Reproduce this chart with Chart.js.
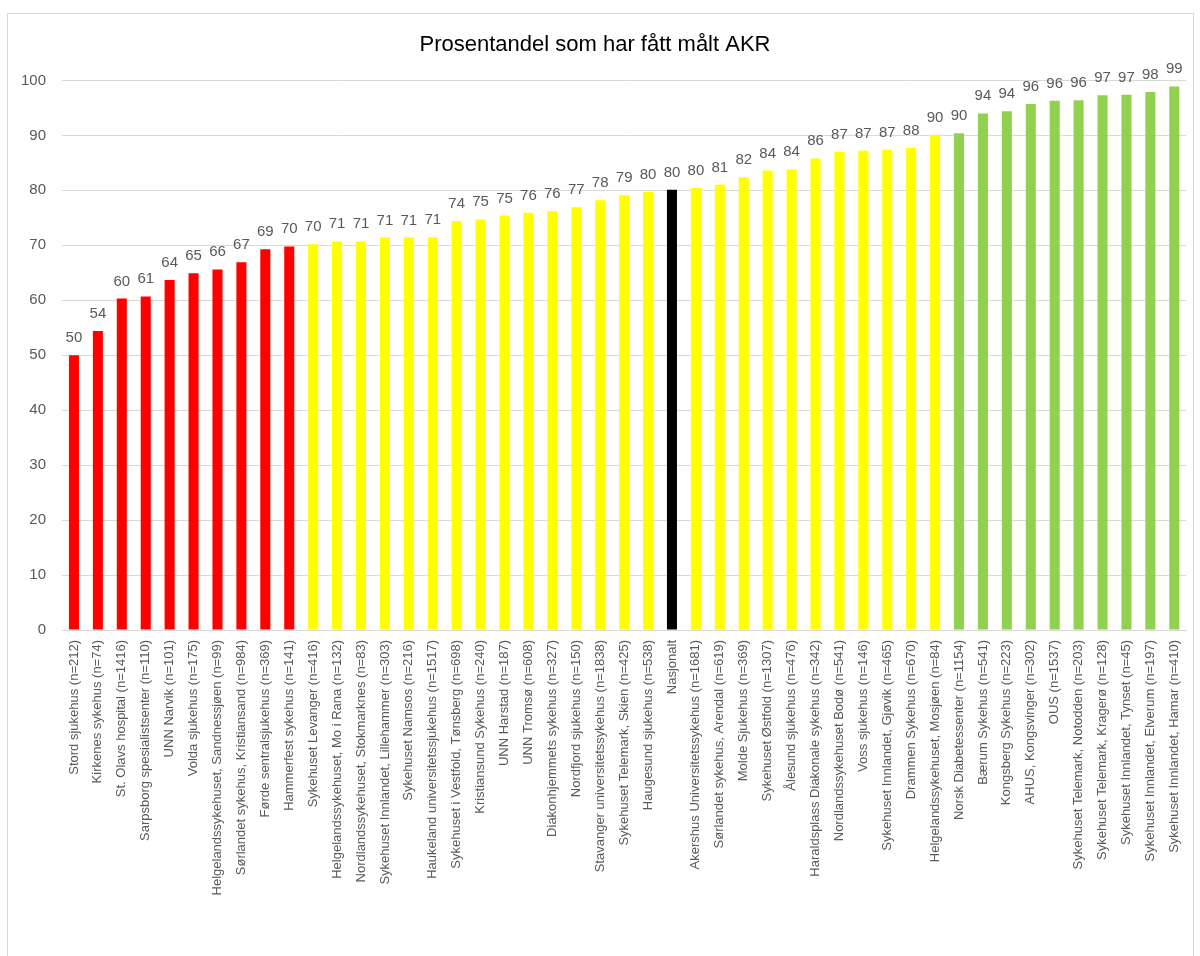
<!DOCTYPE html>
<html>
<head>
<meta charset="utf-8">
<script src="https://cdn.jsdelivr.net/npm/chart.js@4.4.1/dist/chart.umd.min.js"></script>
<style>
  html, body { margin: 0; padding: 0; background: #ffffff; overflow: hidden; }
  #wrap { position: relative; width: 1200px; height: 956px; }
  #frame { position: absolute; left: 7px; top: 13px; width: 1187px; height: 960px; border: 1px solid #d9d9d9; box-sizing: border-box; pointer-events: none; }
  canvas { position: absolute; left: 0; top: 0; }
</style>
</head>
<body>
<div id="wrap">
  <canvas id="c" width="1200" height="956"></canvas>
  <div id="frame"></div>
</div>
<script>
const titleText = "Prosentandel som har fått målt AKR";

const categories = [
  "Stord sjukehus (n=212)",
  "Kirkenes sykehus (n=74)",
  "St. Olavs hospital (n=1416)",
  "Sarpsborg spesialistsenter (n=110)",
  "UNN Narvik (n=101)",
  "Volda sjukehus (n=175)",
  "Helgelandssykehuset, Sandnessjøen (n=99)",
  "Sørlandet sykehus, Kristiansand (n=984)",
  "Førde sentralsjukehus (n=369)",
  "Hammerfest sykehus (n=141)",
  "Sykehuset Levanger (n=416)",
  "Helgelandssykehuset, Mo i Rana (n=132)",
  "Nordlandssykehuset, Stokmarknes (n=83)",
  "Sykehuset Innlandet, Lillehammer (n=303)",
  "Sykehuset Namsos (n=216)",
  "Haukeland universitetssjukehus (n=1517)",
  "Sykehuset i Vestfold, Tønsberg (n=698)",
  "Kristiansund Sykehus (n=240)",
  "UNN Harstad (n=187)",
  "UNN Tromsø (n=608)",
  "Diakonhjemmets sykehus (n=327)",
  "Nordfjord sjukehus (n=150)",
  "Stavanger universitetssykehus (n=1838)",
  "Sykehuset Telemark, Skien (n=425)",
  "Haugesund sjukehus (n=538)",
  "Nasjonalt",
  "Akershus Universitetssykehus (n=1681)",
  "Sørlandet sykehus, Arendal (n=619)",
  "Molde Sjukehus (n=369)",
  "Sykehuset Østfold (n=1307)",
  "Ålesund sjukehus (n=476)",
  "Haraldsplass Diakonale sykehus (n=342)",
  "Nordlandssykehuset Bodø (n=541)",
  "Voss sjukehus (n=146)",
  "Sykehuset Innlandet, Gjøvik (n=465)",
  "Drammen Sykehus (n=670)",
  "Helgelandssykehuset, Mosjøen (n=84)",
  "Norsk Diabetessenter (n=1154)",
  "Bærum Sykehus (n=541)",
  "Kongsberg Sykehus (n=223)",
  "AHUS, Kongsvinger (n=302)",
  "OUS (n=1537)",
  "Sykehuset Telemark, Notodden (n=203)",
  "Sykehuset Telemark, Kragerø (n=128)",
  "Sykehuset Innlandet, Tynset (n=45)",
  "Sykehuset Innlandet, Elverum (n=197)",
  "Sykehuset Innlandet, Hamar (n=410)"
];

const values = [
  50.0, 54.4, 60.3, 60.7, 63.7, 64.9, 65.6, 66.9, 69.3, 69.8,
  70.2, 70.7, 70.7, 71.4, 71.4, 71.45, 74.4, 74.7, 75.4, 75.9,
  76.2, 76.9, 78.2, 79.1, 79.7, 80.1, 80.4, 81.0, 82.4, 83.6,
  83.8, 85.8, 87.0, 87.2, 87.4, 87.7, 90.0, 90.4, 94.0, 94.4,
  95.7, 96.3, 96.4, 97.3, 97.4, 97.9, 98.9
];

// colour group per category: r = red, y = yellow, n = national, g = green
const groups = [
  "r","r","r","r","r","r","r","r","r","r",
  "y","y","y","y","y","y","y","y","y","y",
  "y","y","y","y","y","n","y","y","y","y",
  "y","y","y","y","y","y","y","g","g","g",
  "g","g","g","g","g","g","g"
];

const yTicks = [0, 10, 20, 30, 40, 50, 60, 70, 80, 90, 100];

const palette = { r: "#FF0000", y: "#FFFF00", n: "#000000", g: "#92D050" };
const barColors = groups.map(g => palette[g]);

const valueLabelPlugin = {
  id: "valueLabels",
  afterDatasetsDraw(chart) {
    const ctx = chart.ctx;
    const meta = chart.getDatasetMeta(0);
    ctx.save();
    ctx.font = "15px 'Liberation Sans', Arial, sans-serif";
    ctx.fillStyle = "#595959";
    ctx.textAlign = "center";
    ctx.textBaseline = "alphabetic";
    meta.data.forEach((bar, i) => {
      ctx.fillText(String(Math.round(values[i])), bar.x, bar.y - 13);
    });
    ctx.restore();
  }
};

new Chart(document.getElementById("c"), {
  type: "bar",
  data: {
    labels: categories,
    datasets: [{
      data: values,
      backgroundColor: barColors,
      borderWidth: 0,
      barPercentage: 0.42,
      categoryPercentage: 1.0
    }]
  },
  options: {
    responsive: false,
    animation: false,
    layout: { padding: { left: 0, right: 10, top: 0, bottom: 0 } },
    plugins: {
      legend: { display: false },
      tooltip: { enabled: false },
      title: {
        display: true,
        text: titleText,
        color: "#000000",
        font: { family: "'Liberation Sans', Arial, sans-serif", size: 22, weight: "normal", lineHeight: 1.2 },
        padding: { top: 32, bottom: 22 }
      }
    },
    scales: {
      x: {
        grid: { display: false, drawTicks: false },
        border: { display: true, color: "#d9d9d9", width: 1 },
        ticks: {
          autoSkip: false,
          maxRotation: 90,
          minRotation: 90,
          padding: 10,
          color: "#595959",
          font: { family: "'Liberation Sans', Arial, sans-serif", size: 13 }
        },
        afterFit(scale) { scale.height = 326; }
      },
      y: {
        min: 0,
        max: 100,
        afterBuildTicks(scale) { scale.ticks = yTicks.map(v => ({ value: v })); },
        grid: { color: "#d9d9d9", lineWidth: 1, drawTicks: false },
        border: { display: false },
        ticks: {
          padding: 16,
          color: "#595959",
          font: { family: "'Liberation Sans', Arial, sans-serif", size: 15 }
        },
        afterFit(scale) { scale.width = 62; }
      }
    }
  },
  plugins: [valueLabelPlugin]
});
</script>
</body>
</html>
